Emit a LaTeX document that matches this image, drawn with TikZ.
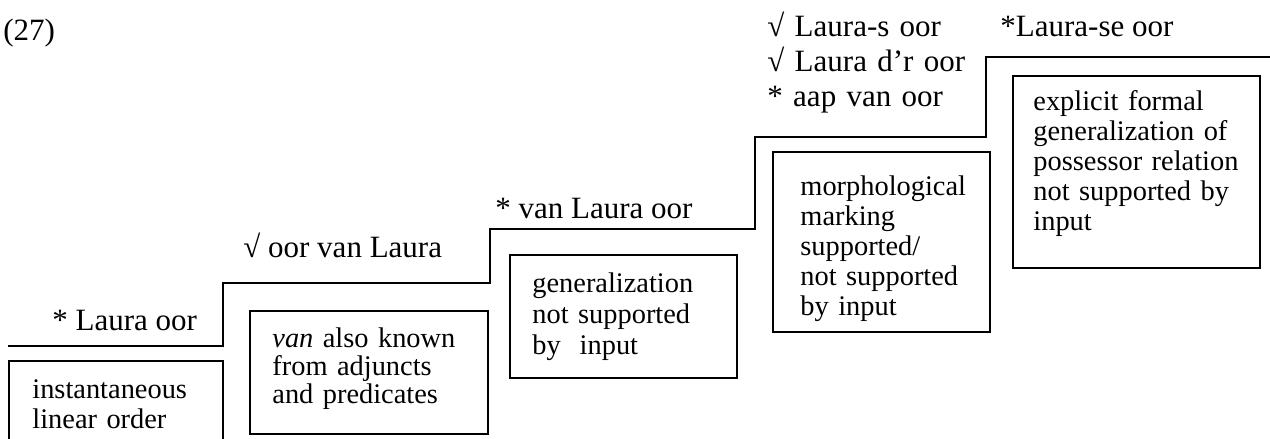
\documentclass[tikz,border=0pt]{standalone}
\usepackage{fontspec}
\setmainfont{Liberation Serif}
\begin{document}
\begin{tikzpicture}[x=0.5pt,y=-0.5pt,
  stair/.style={line width=1pt},
  box/.style={draw, line width=0.9pt, inner sep=0pt, outer sep=0pt, anchor=north west},
  lbl/.style={anchor=base west, inner sep=0pt, font=\fontsize{15.5}{17}\selectfont},
  boxtext/.style={anchor=base west, inner sep=0pt, align=left, text width=130pt, font=\fontsize{14.2}{15}\selectfont},
]
\useasboundingbox (0,0) rectangle (1270,439);
\clip (0,0) rectangle (1270,439);

% staircase
\coordinate (s0) at (8,346);
\coordinate (s1) at (223,346);
\coordinate (s2) at (223,283);
\coordinate (s3) at (490,283);
\coordinate (s4) at (490,229);
\coordinate (s5) at (755,229);
\coordinate (s6) at (755,137);
\coordinate (s7) at (986,137);
\coordinate (s8) at (986,57);
\coordinate (s9) at (1275,57);
\draw[stair] (s0) -- (s1) -- (s2) -- (s3) -- (s4) -- (s5) -- (s6) -- (s7) -- (s8) -- (s9);

% labels
\node[lbl] (n27) at (3,40) {(27)};
\node[lbl] (l1) at (52,330) {* Laura oor};
\node[lbl] (l2) at (243,257) {√ oor van Laura};
\node[lbl] (l3) at (495,218) {* van Laura oor};
\node[lbl, align=left, text width=110pt, font=\fontsize{15.5}{17.75}\selectfont] (l4) at (767,36) {√ Laura-s oor\\√ Laura d’r oor\\{*} aap van oor};
\node[lbl] (l5) at (1000,36) {*Laura-se oor};

% boxes
\node[box, minimum width=107pt, minimum height=50pt] (b1) at (9,361) {};
\node[box, minimum width=119pt, minimum height=61.5pt] (b2) at (250,311) {};
\node[box, minimum width=113.5pt, minimum height=61.5pt] (b3) at (510,255) {};
\node[box, minimum width=108.5pt, minimum height=90pt] (b4) at (773,152) {};
\node[box, minimum width=123.5pt, minimum height=96pt] (b5) at (1013,76) {};

\node[boxtext] (t1) at (32,398) {instantaneous\\linear order};
\node[boxtext, font=\fontsize{14.2}{14}\selectfont] (t2) at (272,347) {\textit{van} also known\\from adjuncts\\and predicates};
\node[boxtext, font=\fontsize{14.2}{15.5}\selectfont] (t3) at (532,292) {generalization\\not supported\\by\ \ input};
\node[boxtext] (t4) at (800,195) {morphological\\marking\\supported/\\not supported\\by input};
\node[boxtext] (t5) at (1033,110) {explicit formal\\generalization of\\possessor relation\\not supported by\\input};
\end{tikzpicture}
\end{document}
